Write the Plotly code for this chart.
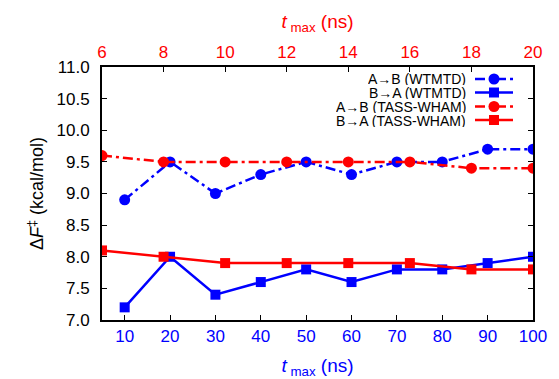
import plotly.graph_objects as go

# ---- data ----
t_wtmtd = [10, 20, 30, 40, 50, 60, 70, 80, 90, 100]
ab_wtmtd = [8.9, 9.5, 9.0, 9.3, 9.5, 9.3, 9.5, 9.5, 9.7, 9.7]
ba_wtmtd = [7.2, 8.0, 7.4, 7.6, 7.8, 7.6, 7.8, 7.8, 7.9, 8.0]

t_tass = [6, 8, 10, 12, 14, 16, 18, 20]
ab_tass = [9.6, 9.5, 9.5, 9.5, 9.5, 9.5, 9.4, 9.4]
ba_tass = [8.1, 8.0, 7.9, 7.9, 7.9, 7.9, 7.8, 7.8]

names = ["A\u2192B (WTMTD)", "B\u2192A (WTMTD)", "A\u2192B (TASS-WHAM)", "B\u2192A (TASS-WHAM)"]
yticks = [7.0, 7.5, 8.0, 8.5, 9.0, 9.5, 10.0, 10.5, 11.0]

BLUE = "#0000ff"
RED = "#ff0000"
DASHDOT = "10px,4px,3px,4px"
FONT = "Liberation Sans, Arial, sans-serif"

W, H = 559, 379
L, R, T, B = 102, 26, 67, 59
pw, ph = W - L - R, H - T - B

fig = go.Figure()
fig.add_trace(go.Scatter(x=t_wtmtd, y=ab_wtmtd, mode="lines+markers", name=names[0],
                         line=dict(color=BLUE, width=2.5, dash=DASHDOT),
                         marker=dict(symbol="circle", size=11, color=BLUE),
                         xaxis="x", yaxis="y", showlegend=False))
fig.add_trace(go.Scatter(x=t_wtmtd, y=ba_wtmtd, mode="lines+markers", name=names[1],
                         line=dict(color=BLUE, width=2.5),
                         marker=dict(symbol="square", size=10, color=BLUE),
                         xaxis="x", yaxis="y", showlegend=False))
fig.add_trace(go.Scatter(x=t_tass, y=ab_tass, mode="lines+markers", name=names[2],
                         line=dict(color=RED, width=2.5, dash=DASHDOT),
                         marker=dict(symbol="circle", size=11, color=RED),
                         xaxis="x2", yaxis="y", showlegend=False))
fig.add_trace(go.Scatter(x=t_tass, y=ba_tass, mode="lines+markers", name=names[3],
                         line=dict(color=RED, width=2.5),
                         marker=dict(symbol="square", size=10, color=RED),
                         xaxis="x2", yaxis="y", showlegend=False))

# ---- custom gnuplot-style legend (text left, sample right) ----
def px_to_paper(px, py):
    return (px - L) / pw, 1 - (py - T) / ph

shapes = []
annotations = []
legend_styles = [(BLUE, DASHDOT, "circle"), (BLUE, "solid", "square"),
                 (RED, DASHDOT, "circle"), (RED, "solid", "square")]
rows_y = [79, 92.5, 106.5, 120]
for name, (col, dash, sym), py in zip(names, legend_styles, rows_y):
    tx, ty = px_to_paper(467, py)
    annotations.append(dict(x=tx, y=ty, xref="paper", yref="paper", text=name,
                            showarrow=False, xanchor="right", yanchor="middle",
                            height=13, borderpad=0,
                            font=dict(family=FONT, size=14, color="black")))
    x0, y0 = px_to_paper(475, py)
    x1, _ = px_to_paper(513, py)
    shapes.append(dict(type="line", xref="paper", yref="paper", x0=x0, x1=x1, y0=y0, y1=y0,
                       line=dict(color=col, width=2.5, dash=dash), layer="above"))
    r = 5.5 if sym == "circle" else 5
    mx0, my0 = px_to_paper(494 - r, py + r)
    mx1, my1 = px_to_paper(494 + r, py - r)
    shapes.append(dict(type="circle" if sym == "circle" else "rect", xref="paper", yref="paper",
                       x0=mx0, x1=mx1, y0=my0, y1=my1, fillcolor=col,
                       line=dict(color=col, width=0), layer="above"))

fig.update_layout(
    width=W, height=H,
    margin=dict(l=L, r=R, t=T, b=B),
    paper_bgcolor="white", plot_bgcolor="white",
    font=dict(family=FONT, size=17, color="black"),
    showlegend=False,
    shapes=shapes, annotations=annotations,
    xaxis=dict(range=[5, 100], tickvals=t_wtmtd, ticks="inside", ticklen=5, tickwidth=1,
               tickcolor="black", showline=True, linecolor="black", linewidth=2,
               showgrid=False, zeroline=False, mirror=False, automargin=False,
               tickfont=dict(color=BLUE, size=17),
               title=dict(text="<i>t</i><sub> max</sub> (ns)", font=dict(color=BLUE, size=19), standoff=14)),
    xaxis2=dict(range=[6, 20], tickvals=t_tass, overlaying="x", side="top", anchor="y",
                ticks="inside", ticklen=5, tickwidth=1, tickcolor="black",
                showline=True, linecolor="black", linewidth=2, automargin=False,
                showgrid=False, zeroline=False,
                tickfont=dict(color=RED, size=17),
                title=dict(text="<i>t</i><sub> max</sub> (ns)", font=dict(color=RED, size=19), standoff=10)),
    yaxis=dict(range=[7.0, 11.0], tickvals=yticks, tickformat=".1f", ticks="inside", ticklen=5,
               tickwidth=1, tickcolor="black", showline=True, linecolor="black", linewidth=2,
               mirror="ticks", showgrid=False, zeroline=False, ticklabelstandoff=7, automargin=False,
               tickfont=dict(color="black", size=17),
               title=dict(text="\u0394<i>F</i><sup>\u2021</sup> (kcal/mol)", font=dict(size=18), standoff=8)),
)

fig.write_html("out.html")
